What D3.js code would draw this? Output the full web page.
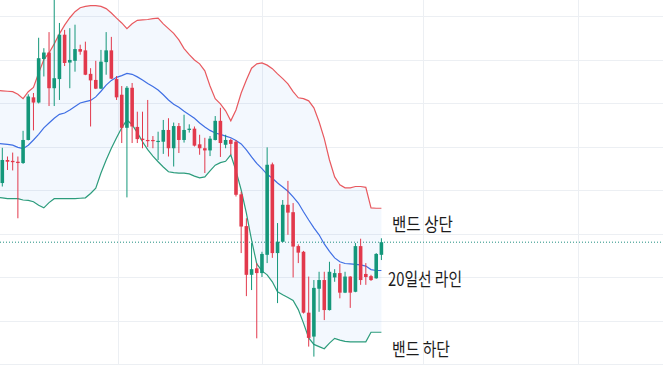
<!DOCTYPE html>
<html><head><meta charset="utf-8">
<script src="https://cdn.jsdelivr.net/npm/d3@7"></script>
<style>html,body{margin:0;padding:0;background:#fff;overflow:hidden}</style>
</head><body><svg id="c" width="663" height="365"></svg>
<script>
// ---- DATA (prices) ----
const opens = [54160,54690,54670,54650,54620,55150,56130,56010,57010,57160,56340,56550,57570,56930,56970,57240,57210,56670,56530,56330,56940,57210,56550,56190,55430,56350,55450,55180,55150,55150,55110,55110,55380,54960,55470,55150,55380,55410,55050,54960,54910,55150,55590,55040,55150,55110,53900,53170,52050,52200,52090,52510,54590,52550,52810,53660,53490,52710,52580,51180,50630,51730,51930,51240,51990,52090,51640,52010,51660,52710,52070,52020,51970,52510];
const highs = [54970,54770,54860,54770,55360,56200,56230,57500,57260,57630,58490,57840,57680,57720,57800,57340,57410,56800,56970,57220,57630,57520,56620,56390,56390,56460,55800,55800,56070,55240,55340,55610,55650,55550,55540,55730,55510,55460,55270,55200,55240,55700,55890,55270,55180,55150,53960,53350,52780,52320,52580,54980,54630,53240,53770,54210,53700,52750,52600,52010,51930,52120,52120,52350,52180,52300,52120,52020,52780,52880,52320,52050,52550,52890];
const lows = [54080,54460,54450,53350,54600,55140,55370,55990,56610,55930,55930,56070,56850,56340,56720,57110,56640,55460,56320,56320,56650,56550,56070,55080,53830,55080,55080,54960,54990,54960,54690,54830,54770,54540,54850,55090,55320,55000,54810,54390,54780,55140,54760,54960,54810,53850,52550,51560,51700,50590,52000,52320,52440,51400,52800,52970,51990,52320,51160,50400,50170,51200,51010,51230,51890,51510,51630,51290,51650,51820,51820,51910,51960,52390];
const closes = [54690,54650,54640,54620,55150,56150,56010,57030,57160,56340,56570,57570,56920,56990,57240,57180,56650,56520,56330,56950,57210,56560,56130,55430,56350,55460,55170,55150,55130,55130,55130,55380,54960,55470,55150,55380,55410,55020,54960,54910,55180,55590,55080,55150,55060,53890,53160,52050,52180,52090,52530,54580,52550,52810,53660,53480,52700,52560,51180,50600,51750,51930,51240,52120,52090,51640,52010,51640,52710,51930,52000,51930,52530,52800];

// Bollinger band values, starting one session before the first visible candle
const bandStart = -1;
const upperBand = [56290,56280,56270,56260,56200,56100,56260,56360,56690,57000,57150,57360,57590,57790,57960,58100,58190,58220,58240,58240,58220,58170,58070,57950,57840,57710,57820,57900,57910,57920,57940,57950,57820,57710,57600,57450,57250,57110,56990,56900,56740,56390,56100,55980,55820,55590,55840,56230,56530,56800,56900,56920,56870,56790,56670,56560,56440,56260,56120,56100,56050,55890,55570,55180,54690,54300,54120,54050,54050,54080,54080,54060,53590,53580,53580];
const middleBand = [55070,55060,55050,55030,54980,54950,55030,55150,55280,55430,55540,55650,55740,55770,55840,55920,56000,56030,56060,56140,56270,56410,56520,56590,56630,56680,56660,56600,56530,56450,56380,56300,56190,56070,55970,55900,55810,55730,55650,55540,55450,55370,55310,55280,55240,55200,55140,55060,54920,54760,54610,54490,54360,54270,54160,54070,53970,53840,53700,53500,53310,53130,52970,52760,52590,52440,52350,52310,52300,52290,52280,52250,52170,52150,52150];
const lowerBand = [53830,53820,53800,53800,53800,53770,53760,53730,53650,53590,53710,53800,53800,53800,53800,53800,53810,53820,53920,54040,54390,54690,54960,55200,55430,55610,55500,55320,55110,54930,54780,54650,54530,54420,54400,54390,54390,54370,54320,54280,54300,54440,54570,54630,54660,54810,54440,54000,53470,52850,52300,52140,52050,51890,51660,51590,51530,51460,51250,50940,50600,50450,50400,50350,50480,50590,50550,50520,50510,50510,50510,50510,50730,50730,50730];

const priceTicks = [50000,51000,52000,53000,54000,55000,56000,57000,58000];
const timeGridIdx = [22.2, 50.0, 81.1, 110.9];
const labelTexts = ["밴드 상단", "20일선 라인", "밴드 하단"];

// ---- CHART ----
const W = 663, H = 365;
const svg = d3.select('#c');
const x = d3.scaleLinear().domain([0, opens.length - 1]).range([2.3, 381.4]);
const y = d3.scaleLinear().domain([50000, 58000]).range([364, 16]);

const gridColor = '#eceff3';
svg.append('g').selectAll('line').data(priceTicks).join('line')
  .attr('x1', 0).attr('x2', W)
  .attr('y1', d => Math.round(y(d)) + 0.5).attr('y2', d => Math.round(y(d)) + 0.5)
  .attr('stroke', gridColor).attr('stroke-width', 1);
svg.append('g').selectAll('line').data(timeGridIdx).join('line')
  .attr('y1', 0).attr('y2', H)
  .attr('x1', d => Math.round(x(d)) + 0.5).attr('x2', d => Math.round(x(d)) + 0.5)
  .attr('stroke', gridColor).attr('stroke-width', 1);

const bandIdx = upperBand.map((_, k) => k + bandStart);
const area = d3.area()
  .x((d, k) => x(bandIdx[k]))
  .y0((d, k) => y(lowerBand[k]))
  .y1((d, k) => y(upperBand[k]));
svg.append('path').datum(upperBand).attr('d', area)
  .attr('fill', 'rgba(33,130,235,0.055)');

// current price dotted line
const lastClose = closes[closes.length - 1];
svg.append('line')
  .attr('x1', 0).attr('x2', W)
  .attr('y1', y(lastClose)).attr('y2', y(lastClose))
  .attr('stroke', '#1f8f80').attr('stroke-width', 1)
  .attr('stroke-dasharray', '1,2');

const line = d3.line().x((d, k) => x(bandIdx[k])).y(d => y(d));
[[upperBand, '#e8595f'], [middleBand, '#3f6fe4'], [lowerBand, '#2c9c7c']].forEach(([arr, c]) => {
  svg.append('path').datum(arr).attr('d', line)
    .attr('fill', 'none').attr('stroke', c).attr('stroke-width', 1.2);
});

// candles
const up = '#14977a', down = '#e2394c';
const idx = d3.range(opens.length);
const cg = svg.append('g');
cg.selectAll('line').data(idx).join('line')
  .attr('x1', i => x(i)).attr('x2', i => x(i))
  .attr('y1', i => y(highs[i])).attr('y2', i => y(lows[i]))
  .attr('stroke', i => closes[i] >= opens[i] ? up : down).attr('stroke-width', 1);
const bw = 3.6;
cg.selectAll('rect').data(idx).join('rect')
  .attr('x', i => x(i) - bw / 2).attr('width', bw)
  .attr('y', i => y(Math.max(opens[i], closes[i])))
  .attr('height', i => Math.max(1.2, Math.abs(y(opens[i]) - y(closes[i]))))
  .attr('fill', i => closes[i] >= opens[i] ? up : down);

// labels
const labelLayout = [
  {x: 392, y: 230.5, len: 61},
  {x: 388, y: 286, len: 74},
  {x: 392, y: 355.5, len: 58}
];
svg.append('g').selectAll('text').data(labelTexts).join('text')
  .attr('x', (d, k) => labelLayout[k].x)
  .attr('y', (d, k) => labelLayout[k].y)
  .attr('textLength', (d, k) => labelLayout[k].len)
  .attr('lengthAdjust', 'spacingAndGlyphs')
  .attr('font-family', '"Noto Sans CJK KR", "Noto Sans", sans-serif')
  .attr('font-size', 18)
  .attr('fill', '#1c1c1c')
  .text(d => d);
</script>
</body></html>
